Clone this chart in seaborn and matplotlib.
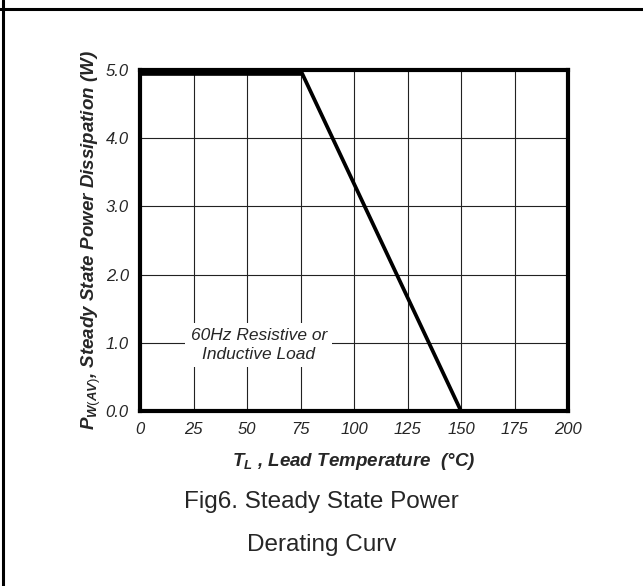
import matplotlib
matplotlib.use("Agg")
import matplotlib.pyplot as plt
import seaborn as sns
import pandas as pd
from matplotlib.lines import Line2D

# Data
temps = [0, 75, 150]
power = [5.0, 5.0, 0.0]
x_ticks = [0, 25, 50, 75, 100, 125, 150, 175, 200]
y_ticks = [0.0, 1.0, 2.0, 3.0, 4.0, 5.0]
y_tick_labels = ["0.0", "1.0", "2.0", "3.0", "4.0", "5.0"]

sns.set_theme(style="white")
plt.rcParams['font.family'] = ['Liberation Sans', 'DejaVu Sans']
plt.rcParams['mathtext.fontset'] = 'custom'
plt.rcParams['mathtext.rm'] = 'Liberation Sans'
plt.rcParams['mathtext.it'] = 'Liberation Sans:italic:bold'
plt.rcParams['mathtext.bf'] = 'Liberation Sans:bold:italic'

df = pd.DataFrame({"T": temps, "P": power})

fig = plt.figure(figsize=(6.43, 5.86), dpi=100)
ax = fig.add_axes([140/643, 1-411/586, 428/643, 341/586])

ax.set_xlim(0, 200)
ax.set_ylim(0, 5)
ax.set_xticks(x_ticks)
ax.set_yticks(y_ticks)
ax.set_yticklabels(y_tick_labels)
ax.grid(True, color="#222222", linewidth=0.8)
ax.set_axisbelow(True)
for s in ax.spines.values():
    s.set_linewidth(3.0)
    s.set_color("black")
    s.set_zorder(5)

sns.lineplot(data=df, x="T", y="P", ax=ax, color="black", linewidth=2.7,
             clip_on=False, zorder=6)
ax.plot([0, 75], [4.97, 4.97], color="black", linewidth=5.5, zorder=6,
        solid_capstyle="butt", clip_on=False)

ax.tick_params(axis="both", length=0, labelsize=12, pad=8)
for lab in ax.get_xticklabels() + ax.get_yticklabels():
    lab.set_fontstyle("italic")

ax.set_xlabel(r"$T_L$ , Lead Temperature  (°C)", fontsize=13.5,
              fontweight="bold", fontstyle="italic", labelpad=10)
ax.set_ylabel(r"$P_{W(AV)}$, Steady State Power Dissipation (W)", fontsize=13.5,
              fontweight="bold", fontstyle="italic", labelpad=2)

ax.text(55.5, 0.97, "60Hz Resistive or\nInductive Load", fontsize=12.5,
        fontstyle="italic", ha="center", va="center", linespacing=1.35,
        bbox=dict(boxstyle="square,pad=0.3", facecolor="white",
                  edgecolor="none"), zorder=4)

fig.text(0.5, 1-502/586, "Fig6. Steady State Power", ha="center",
         va="center", fontsize=17.5)
fig.text(0.5, 1-545/586, "Derating Curv", ha="center", va="center",
         fontsize=17.5)

# outer frame lines
fig.add_artist(Line2D([0, 1], [1-9/586, 1-9/586], color="black",
                      linewidth=2.2, transform=fig.transFigure))
fig.add_artist(Line2D([2.5/643, 2.5/643], [0, 1], color="black",
                      linewidth=2.2, transform=fig.transFigure))

fig.savefig("out.png", dpi=100)
